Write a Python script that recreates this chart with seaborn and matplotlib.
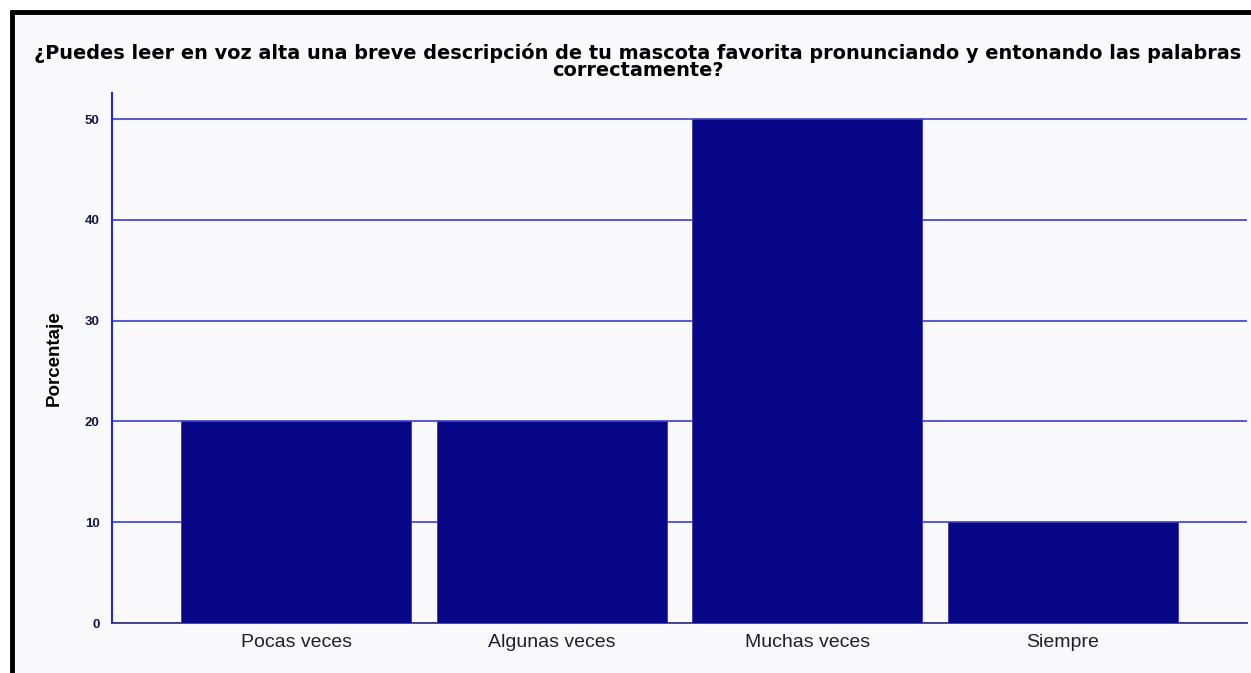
"""
Bar chart: reading aloud a pet description (percentages)
"""

import matplotlib
matplotlib.use("Agg")
import matplotlib.pyplot as plt
from matplotlib.lines import Line2D
from matplotlib.patches import Rectangle
import pandas as pd
import seaborn as sns

# Data
categories = ["Pocas veces", "Algunas veces", "Muchas veces", "Siempre"]
porcentaje = [20, 20, 50, 10]
y_ticks = [0, 10, 20, 30, 40, 50]

TITLE = ("¿Puedes leer en voz alta una breve descripción de tu mascota favorita "
         "pronunciando y entonando las palabras\ncorrectamente?")

BG = "#f9f9fc"
BAR = "#070788"
GRID = "#4b4bd0"

sns.set_theme(style="white")
plt.rcParams["font.family"] = ["Liberation Sans", "DejaVu Sans"]

df = pd.DataFrame({"categoria": categories, "porcentaje": porcentaje})

fig = plt.figure(figsize=(12.51, 6.73), dpi=100)
fig.patch.set_facecolor("white")

# inner panel + black frame (top and left edges visible)
fig.add_artist(Rectangle((14 / 1251, 0), 1, 1 - 14 / 673,
                         transform=fig.transFigure, facecolor=BG,
                         edgecolor="none", zorder=-10))
fig.add_artist(Line2D([10 / 1251, 1], [1 - 12 / 673, 1 - 12 / 673],
                      transform=fig.transFigure, color="black", lw=3.5,
                      solid_capstyle="butt"))
fig.add_artist(Line2D([12 / 1251, 12 / 1251], [0, 1 - 10 / 673],
                      transform=fig.transFigure, color="black", lw=3.5,
                      solid_capstyle="butt"))

ax = fig.add_axes([112 / 1251, 1 - 623 / 673, (1247 - 112) / 1251, (623 - 93) / 673])
ax.set_facecolor(BG)

sns.barplot(data=df, x="categoria", y="porcentaje", ax=ax, color=BAR,
            width=0.9, edgecolor="#3a3ab0", linewidth=0.6, zorder=3, saturation=1)

ax.set_xlim(-0.72, 3.72)
ax.set_ylim(0, 52.6)
ax.set_yticks(y_ticks)
ax.yaxis.grid(True, color=GRID, lw=1.3, zorder=0)
ax.set_axisbelow(True)

for s in ["top", "right"]:
    ax.spines[s].set_visible(False)
ax.spines["left"].set_color("#2a2ab8")
ax.spines["left"].set_linewidth(1.5)
ax.spines["bottom"].set_color("#3a3a80")
ax.spines["bottom"].set_linewidth(1.3)

ax.tick_params(axis="y", length=0, pad=9, labelsize=9.5, labelcolor="#15154a")
for lbl in ax.get_yticklabels():
    lbl.set_fontweight("bold")
ax.tick_params(axis="x", length=0, pad=8, labelsize=14, labelcolor="#1e1e2e")

ax.set_xlabel("")
ax.set_ylabel("Porcentaje", fontsize=13.5, fontweight="bold", color="black", labelpad=16)

fig.text(638 / 1251, 1 - 43 / 673, TITLE, ha="center", va="top",
         fontsize=13.9, fontweight="bold", color="black", linespacing=0.88,
         family=["DejaVu Sans"])

fig.savefig("out.png", dpi=100)
